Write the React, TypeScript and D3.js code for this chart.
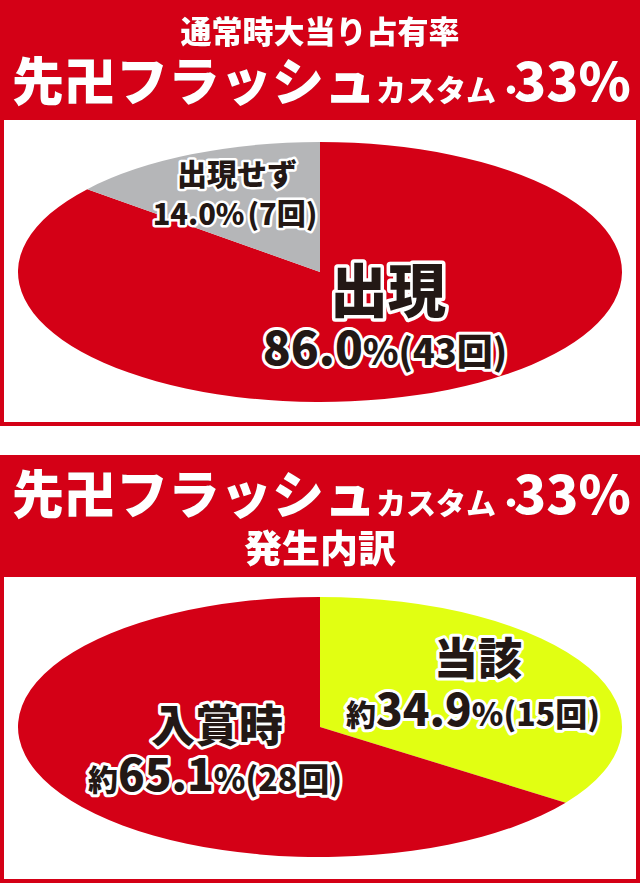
import React from "react";
import * as d3 from "d3";

const pie1Labels = ["出現", "出現せず"];
const pie1Counts = [43, 7];
const pie1Pct = ["86.0", "14.0"];
const pie1Colors = ["#d40016", "#b5b6b8"];

const pie2Labels = ["当該", "入賞時"];
const pie2Counts = [15, 28];
const pie2Pct = ["34.9", "65.1"];
const pie2Colors = ["#e1ff12", "#d40016"];

const W = 640;
const H = 884;
const RED = "#d40016";
const FONT = "'Noto Sans CJK JP', 'Noto Sans', sans-serif";
const INK = "#231815";

function Pie({ cx, cy, rx, ry, counts, colors }: any) {
  const pie = d3.pie<number>().sort(null).value((d) => d);
  const arcs = pie(counts);
  const arc = d3.arc<d3.PieArcDatum<number>>().innerRadius(0).outerRadius(rx);
  return (
    <g transform={`translate(${cx},${cy}) scale(1,${ry / rx})`}>
      {arcs.map((a, i) => (
        <path key={i} d={arc(a) || ""} fill={colors[i]} />
      ))}
    </g>
  );
}

function Outlined({ x, y, children, sw = 6 }: any) {
  return (
    <text x={x} y={y} textAnchor="middle" fontFamily={FONT} fontWeight={900}
      fill={INK} stroke="#fff" strokeWidth={sw} strokeLinejoin="round"
      style={{ paintOrder: "stroke" }}>{children}</text>
  );
}

const shadow = { filter: "drop-shadow(0.5px 0.5px 0.5px rgba(80,0,0,0.6))" };

function TitleLine({ x, y }: any) {
  return (
    <text x={x} y={y} fontFamily={FONT} fontWeight={900} fill="#fff" style={shadow}>
      <tspan fontSize={52}>先卍フラッシュ</tspan>
      <tspan fontSize={30} dx={0}>カスタム・</tspan>
      <tspan fontSize={53} dx={-12}>33%</tspan>
    </text>
  );
}

export default function App() {
  return (
    <svg width={W} height={H} style={{ position: "absolute", left: 0, top: 0, background: "#fff" }}>
      {/* Panel 1 */}
      <rect x={0} y={0} width={W} height={118} fill={RED} />
      <rect x={2} y={118} width={W - 4} height={306} fill="#fff" stroke={RED} strokeWidth={4} />
      <text x={320} y={43} textAnchor="middle" fontFamily={FONT} fontWeight={900} fontSize={31} fill="#fff" style={shadow}>通常時大当り占有率</text>
      <TitleLine x={12} y={101} />
      <Pie cx={320} cy={272} rx={302} ry={130} counts={pie1Counts} colors={pie1Colors} />
      <Outlined x={237} y={185} sw={5}><tspan fontSize={30}>{pie1Labels[1]}</tspan></Outlined>
      <Outlined x={235} y={225} sw={5}>
        <tspan fontSize={29}>{`${pie1Pct[1]}%`}</tspan>
        <tspan fontSize={29} dx={3}>{`(${pie1Counts[1]}回)`}</tspan>
      </Outlined>
      <Outlined x={388} y={312} sw={7}><tspan fontSize={58}>{pie1Labels[0]}</tspan></Outlined>
      <Outlined x={385} y={365}>
        <tspan fontSize={46}>{pie1Pct[0]}</tspan>
        <tspan fontSize={36}>{`%(${pie1Counts[0]}回)`}</tspan>
      </Outlined>

      {/* Panel 2 */}
      <rect x={0} y={455} width={W} height={120} fill={RED} />
      <rect x={2} y={575} width={W - 4} height={306} fill="#fff" stroke={RED} strokeWidth={4} />
      <TitleLine x={12} y={514} />
      <text x={320} y={562} textAnchor="middle" fontFamily={FONT} fontWeight={900} fontSize={38} fill="#fff" style={shadow}>発生内訳</text>
      <Pie cx={320} cy={727} rx={302} ry={130} counts={pie2Counts} colors={pie2Colors} />
      <Outlined x={478} y={675}><tspan fontSize={44}>{pie2Labels[0]}</tspan></Outlined>
      <Outlined x={473} y={726}>
        <tspan fontSize={30}>約</tspan>
        <tspan fontSize={44}>{pie2Pct[0]}</tspan>
        <tspan fontSize={32}>{`%(${pie2Counts[0]}回)`}</tspan>
      </Outlined>
      <Outlined x={217} y={742}><tspan fontSize={44}>{pie2Labels[1]}</tspan></Outlined>
      <Outlined x={215} y={791}>
        <tspan fontSize={30}>約</tspan>
        <tspan fontSize={44}>{pie2Pct[1]}</tspan>
        <tspan fontSize={32}>{`%(${pie2Counts[1]}回)`}</tspan>
      </Outlined>
    </svg>
  );
}
